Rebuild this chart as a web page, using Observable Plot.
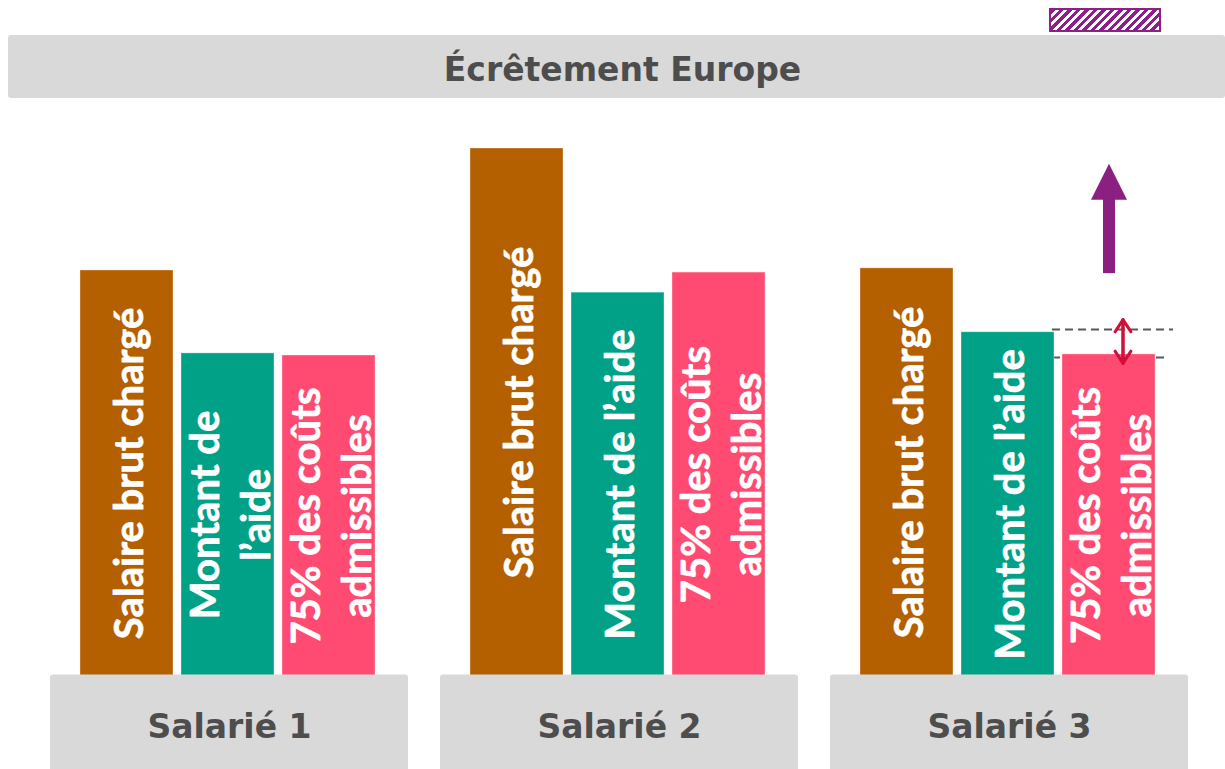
<!DOCTYPE html>
<html>
<head>
<meta charset="utf-8">
<script src="https://cdn.jsdelivr.net/npm/d3@7"></script>
<script src="https://cdn.jsdelivr.net/npm/@observablehq/plot@0.6"></script>
<style>
  html, body { margin: 0; padding: 0; background: #fff; overflow: hidden; }
  #wrap { position: relative; width: 1225px; height: 769px; }
  #chart { position: absolute; left: 0; top: 0; }
  #hatch {
    position: absolute; left: 1049px; top: 8px; width: 108px; height: 20px;
    border: 2px solid #8e1e8a;
    background: repeating-linear-gradient(135deg, #8e1e8a 0 3px, #ffffff 3px 6px);
    z-index: 2;
  }
  #title {
    position: absolute; left: 8px; top: 35px; width: 1217px; height: 63px;
    background: #d9d9d9; border-radius: 3px;
    font-family: "DejaVu Sans", sans-serif; font-weight: bold; font-size: 33px;
    color: #4d4d4d; text-align: center; line-height: 63px;
    box-sizing: border-box; padding-left: 12px; z-index: 2;
  }
  #title span { position: relative; top: 3px; }
</style>
</head>
<body>
<div id="wrap">
  <div id="chart"></div>
  <div id="hatch"></div>
  <div id="title"><span>Écrêtement Europe</span></div>
</div>
<script>
// ---- data ----
const groups = ["Salarié 1", "Salarié 2", "Salarié 3"];
const series = ["Salaire brut chargé", "Montant de l’aide", "75% des coûts admissibles"];
const salaireBrut = [76.9, 100, 77.3];
const montantAide = [61.2, 72.7, 65.2];
const coutsAdmissibles = [60.8, 76.5, 61.0];
const barLabels = [
  ["Salaire brut chargé", "Montant de\nl’aide", "75% des coûts\nadmissibles"],
  ["Salaire brut chargé", "Montant de l’aide", "75% des coûts\nadmissibles"],
  ["Salaire brut chargé", "Montant de l’aide", "75% des coûts\nadmissibles"]
];
const colors = ["#b45f00", "#00a187", "#ff4b71"];

// annotations (Salarié 3)
const capGroup = "Salarié 3";
const dashLevels = [65.7, 60.4];
const gapArrow = [67.6, 59.3];
const upArrowShaft = [76.3, 90.6];
const upArrowHead = [90.3];

// ---- table ----
const valuesBySeries = [salaireBrut, montantAide, coutsAdmissibles];
const bars = [];
groups.forEach((g, i) => series.forEach((s, j) => bars.push({
  group: g, series: s, value: valuesBySeries[j][i], label: barLabels[i][j]
})));

// isosceles arrow-head symbol (base at the anchor, tip above)
const arrowHead = {
  draw(context, size) {
    const k = Math.sqrt(size);
    context.moveTo(0, -k);
    context.lineTo(k / 2, 0);
    context.lineTo(-k / 2, 0);
    context.closePath();
  }
};

const plot = Plot.plot({
  width: 1225,
  height: 769,
  marginLeft: 50,
  marginRight: 37,
  marginTop: 148,
  marginBottom: 93,
  style: {background: "transparent", overflow: "visible"},
  fx: {domain: groups, paddingInner: 32 / 390, paddingOuter: 0, axis: null, label: null},
  x: {domain: series, paddingInner: 0.08, paddingOuter: 0.31, align: 0.47, axis: null, label: null},
  y: {domain: [0, 100], axis: null, label: null},
  color: {domain: series, range: colors},
  marks: [
    Plot.ruleY([dashLevels[0]], {fx: [capGroup], insetLeft: 222, insetRight: 15,
      stroke: "#595959", strokeWidth: 2, strokeDasharray: "8,5"}),
    Plot.ruleY([dashLevels[1]], {fx: [capGroup], insetLeft: 222, insetRight: 21,
      stroke: "#595959", strokeWidth: 2, strokeDasharray: "8,5"}),
    Plot.barY(bars, {fx: "group", x: "series", y: "value", fill: "series",
      stroke: "#ffffff", strokeOpacity: 0.35, strokeWidth: 1}),
    Plot.text(bars, {fx: "group", x: "series", y: d => d.value / 2, text: "label",
      rotate: -90, fill: "white", stroke: "white", strokeWidth: 0.7, fontSize: 40, fontWeight: "bold",
      fontFamily: "Lato, 'Open Sans', sans-serif", lineHeight: 1.275}),
    Plot.rect(groups, {fx: d => d, y1: 0.3, y2: -25, fill: "#d9d9d9", rx: 3}),
    Plot.text(groups, {fx: d => d, text: d => d, frameAnchor: "bottom", lineAnchor: "middle", dy: 51,
      fontSize: 33, fontWeight: "bold", fill: "#4d4d4d", fontFamily: "'DejaVu Sans', sans-serif"}),
    Plot.ruleX([series[2]], {fx: [capGroup], x: d => d, y1: upArrowShaft[0], y2: upArrowShaft[1],
      stroke: "#8b1f82", strokeWidth: 12, strokeLinecap: "butt"}),
    Plot.dot(upArrowHead, {fx: [capGroup], x: [series[2]], y: d => d, symbol: arrowHead,
      r: Math.sqrt(36 * 36 / Math.PI), fill: "#8b1f82", stroke: "none"}),
    Plot.arrow([0, 1], {fx: [capGroup, capGroup], x1: [series[2], series[2]], x2: [series[2], series[2]],
      y1: [gapArrow[1], gapArrow[0]], y2: [gapArrow[0], gapArrow[1]], dx: 14,
      stroke: "#d0103a", strokeWidth: 3, headLength: 14, headAngle: 66})
  ]
});
document.getElementById("chart").appendChild(plot);
</script>
</body>
</html>
